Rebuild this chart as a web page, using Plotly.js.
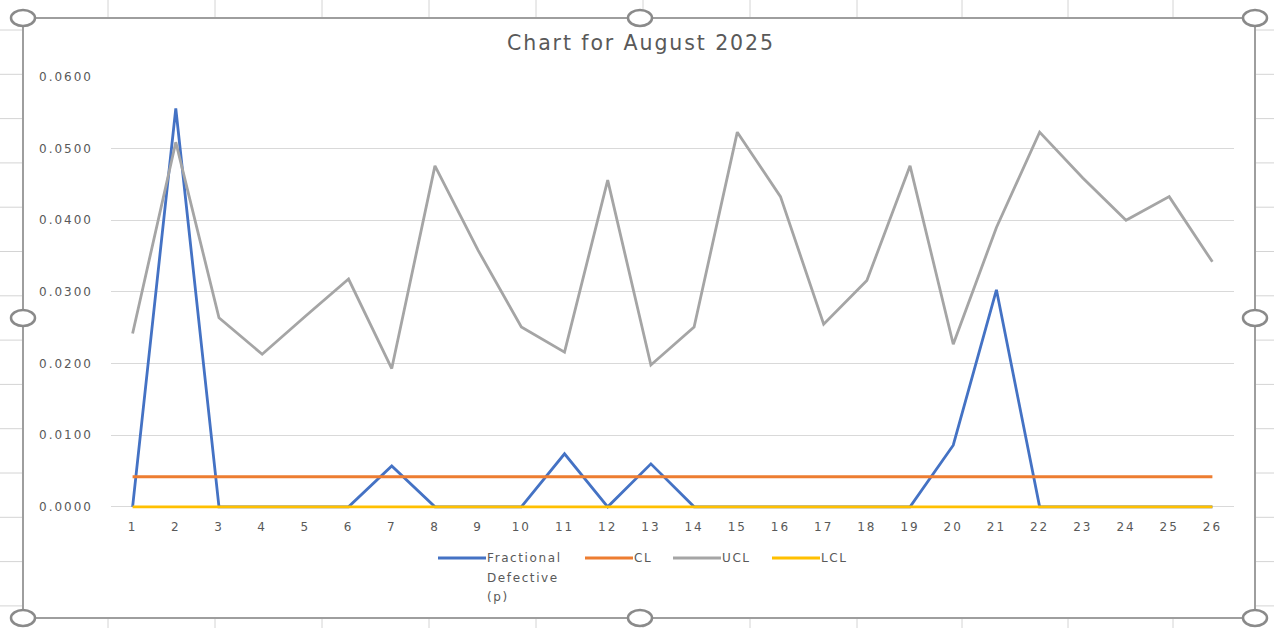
<!DOCTYPE html>
<html>
<head>
<meta charset="utf-8">
<script src="https://cdn.plot.ly/plotly-3.0.1.min.js"></script>
<style>
html,body{margin:0;padding:0;background:#fff;}
#chart{width:1274px;height:628px;}
#chart .xtick text, #chart .ytick text { letter-spacing: 2px; }
#chart .gtitle { letter-spacing: 1.9px; }
#chart .annotation-text { letter-spacing: 1.6px; }
</style>
</head>
<body>
<div id="chart"></div>
<script>
var days = [1,2,3,4,5,6,7,8,9,10,11,12,13,14,15,16,17,18,19,20,21,22,23,24,25,26];
var fractionalDefective = [0,0.0556,0,0,0,0,0.0057,0,0,0,0.0074,0,0.0060,0,0,0,0,0,0,0.0086,0.0303,0,0,0,0,0];
var clValues = [0.0042,0.0042,0.0042,0.0042,0.0042,0.0042,0.0042,0.0042,0.0042,0.0042,0.0042,0.0042,0.0042,0.0042,0.0042,0.0042,0.0042,0.0042,0.0042,0.0042,0.0042,0.0042,0.0042,0.0042,0.0042,0.0042];
var uclValues = [0.0242,0.0509,0.0264,0.0213,0.0266,0.0318,0.0193,0.0476,0.0358,0.0251,0.0216,0.0456,0.0198,0.0251,0.0523,0.0433,0.0255,0.0316,0.0476,0.0227,0.0390,0.0523,0.0459,0.0400,0.0433,0.0342];
var lclValues = [0,0,0,0,0,0,0,0,0,0,0,0,0,0,0,0,0,0,0,0,0,0,0,0,0,0];
var yTickValues = [0,0.01,0.02,0.03,0.04,0.05,0.06];
var yTickLabels = ["0.0000","0.0100","0.0200","0.0300","0.0400","0.0500","0.0600"];
var seriesNames = ['Fractional Defective (p)', 'CL', 'UCL', 'LCL'];
var legendLines = [['Fractional','Defective','(p)'], ['CL'], ['UCL'], ['LCL']];
var seriesColors = ['#4472C4', '#ED7D31', '#A5A5A5', '#FFC000'];

// plot area: a little room below zero so the LCL line at 0 is not clipped
var W = 1274, H = 628, ML = 111, MR = 40, MT = 77, MB = 119;
var PW = W - ML - MR, PH = H - MT - MB;
function px(x){ return (x - ML) / PW; }
function py(y){ return (H - MB - y) / PH; }

var font = "DejaVu Sans, Arial, sans-serif";
var seriesValues = [fractionalDefective, clValues, uclValues, lclValues];
var data = seriesValues.map(function(v, i){
  return {x: days, y: v, name: seriesNames[i], type: 'scatter', mode: 'lines',
          line: {color: seriesColors[i], width: 2.8}, hoverinfo: 'skip', showlegend: false};
});

var shapes = [];
var annotations = [];
var sheetLine = {color: '#d4d4d4', width: 1};
var cols = [108,215,322,429,536,643,750,857,962,1068,1173];
cols.forEach(function(c){
  shapes.push({type:'line', xref:'paper', yref:'paper', x0:px(c), x1:px(c), y0:py(0), y1:py(17), line:sheetLine});
  shapes.push({type:'line', xref:'paper', yref:'paper', x0:px(c), x1:px(c), y0:py(619), y1:py(628), line:sheetLine});
});
for (var r = 30; r < 628; r += 44.3){
  shapes.push({type:'line', xref:'paper', yref:'paper', x0:px(0), x1:px(22), y0:py(r), y1:py(r), line:sheetLine});
  shapes.push({type:'line', xref:'paper', yref:'paper', x0:px(1256), x1:px(1274), y0:py(r), y1:py(r), line:sheetLine});
}
shapes.push({type:'rect', xref:'paper', yref:'paper', x0:px(23), x1:px(1255), y0:py(618), y1:py(18),
  line:{color:'#9e9e9e', width:2}, fillcolor:'rgba(0,0,0,0)'});
var handles = [[23,18],[640,18],[1255,18],[23,318],[1255,318],[23,618],[640,618],[1255,618]];
handles.forEach(function(h){
  shapes.push({type:'circle', xref:'paper', yref:'paper', x0:px(h[0]-12), x1:px(h[0]+12), y0:py(h[1]+8), y1:py(h[1]-8),
    line:{color:'#8a8a8a', width:2.5}, fillcolor:'#ffffff'});
});

// manual legend (Excel style: long sample line, text right after)
var legendStarts = [438, 585, 673, 772];
var legendY = 558;
legendStarts.forEach(function(x0, i){
  shapes.push({type:'line', xref:'paper', yref:'paper', x0:px(x0), x1:px(x0+48), y0:py(legendY), y1:py(legendY),
    line:{color: seriesColors[i], width: 3}});
  legendLines[i].forEach(function(t, k){
    annotations.push({xref:'paper', yref:'paper', x:px(x0+48), y:py(legendY + k*19.5), xanchor:'left', yanchor:'middle',
      width: 100, align: 'left', borderpad: 0,
      text: t, showarrow:false, font:{family: font, size: 12, color:'#595959'}});
  });
});

var layout = {
  width: W, height: H,
  margin: {l: ML, r: MR, t: MT, b: MB, pad: 0},
  paper_bgcolor: '#ffffff', plot_bgcolor: '#ffffff',
  title: {text: 'Chart for August 2025', font: {family: font, size: 20.5, color: '#595959'},
          x: 641/W, xref: 'container', xanchor: 'center', y: 1 - 43/H, yref: 'container', yanchor: 'middle'},
  xaxis: {range: [0.5, 26.5], tickvals: days, ticktext: days.map(String), showgrid: false, zeroline: false,
          showline: false, ticks: '', tickfont: {family: font, size: 12, color: '#595959'}, ticklabelstandoff: 9, fixedrange: true},
  yaxis: {range: [-0.0003, 0.06], tickvals: yTickValues, ticktext: yTickLabels, showgrid: true, gridcolor: '#d9d9d9', gridwidth: 1,
          zeroline: false, showline: false, ticks: '', tickfont: {family: font, size: 12, color: '#595959'}, ticklabelstandoff: 17, fixedrange: true},
  showlegend: false,
  shapes: shapes,
  annotations: annotations
};
Plotly.newPlot('chart', data, layout, {displayModeBar: false, staticPlot: true});
</script>
</body>
</html>
